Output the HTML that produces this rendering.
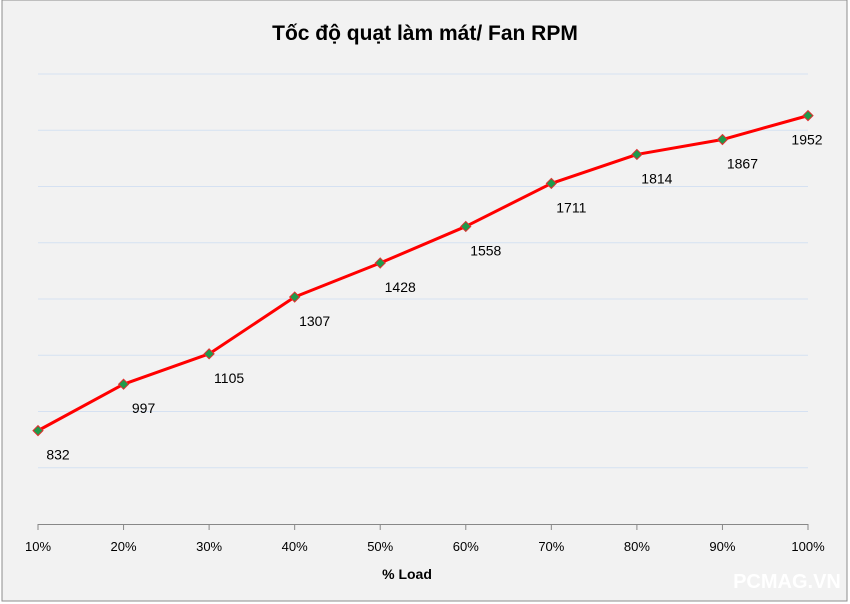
<!DOCTYPE html>
<html><head><meta charset="utf-8"><style>
html,body{margin:0;padding:0;background:#fff;}
svg{display:block;}
</style></head><body>
<svg id="chart" width="850" height="604" xmlns="http://www.w3.org/2000/svg" font-family="'Liberation Sans', 'DejaVu Sans', sans-serif">
<rect x="2" y="0" width="845" height="601" fill="#f2f2f2" stroke="#8c8c8c" stroke-width="1"/>
<text x="425" y="40" text-anchor="middle" font-size="21" font-weight="bold" fill="#000">Tốc độ quạt làm mát/ Fan RPM</text>
<g id="grid"></g>
<g id="axis"></g>
<g id="series"></g>
<text x="407" y="579" text-anchor="middle" font-size="14" font-weight="bold" fill="#000">% Load</text>
<text x="787" y="588" text-anchor="middle" font-size="20" font-weight="bold" fill="#ffffff">PCMAG.VN</text>
</svg>
<script>
const categories = ["10%","20%","30%","40%","50%","60%","70%","80%","90%","100%"];
const rpmValues = [832,997,1105,1307,1428,1558,1711,1814,1867,1952];
const yTicks = [700,900,1100,1300,1500,1700,1900,2100];
const yMin = 500, yMax = 2100;
const NS = "http://www.w3.org/2000/svg";
const x0 = 38, x1 = 808, yTop = 74, yBot = 524;
function xPos(i){ return x0 + i*(x1-x0)/(categories.length-1); }
function yPos(v){ return yBot - (v-yMin)/(yMax-yMin)*(yBot-yTop); }
function mk(tag, attrs, parent){ const e=document.createElementNS(NS,tag); for(const k in attrs) e.setAttribute(k,attrs[k]); parent.appendChild(e); return e; }
const grid=document.getElementById('grid'), axis=document.getElementById('axis'), series=document.getElementById('series');
yTicks.forEach(t=>{
  const l=mk('line',{x1:x0,x2:x1,y1:yPos(t),y2:yPos(t),stroke:'#d5e1f2','stroke-width':1},grid);
  
  
});
const al=mk('line',{x1:x0,x2:x1,y1:yBot+0.5,y2:yBot+0.5,stroke:'#888','stroke-width':1},axis);


categories.forEach((c,i)=>{
  const tk=mk('line',{x1:xPos(i),x2:xPos(i),y1:yBot,y2:yBot+6,stroke:'#888','stroke-width':1},axis);
  
  
  const tl=mk('text',{x:xPos(i),y:551,'text-anchor':'middle','font-size':13,fill:'#000'},axis);
  tl.textContent=c;
  
  
});
const pts=rpmValues.map((v,i)=>xPos(i)+','+yPos(v)).join(' ');
const pl=mk('polyline',{points:pts,fill:'none',stroke:'#ff0000','stroke-width':3,'stroke-linejoin':'round'},series);


rpmValues.forEach((v,i)=>{
  const x=xPos(i), y=yPos(v);
  const m=mk('polygon',{points:`${x},${y-5} ${x+5},${y} ${x},${y+5} ${x-5},${y}`,fill:'#1e9a4a',stroke:'#e03030','stroke-width':1},series);
  
  
  const last = i===rpmValues.length-1;
  const t=mk('text',{x:last?x-1:x+20,y:y+29,'text-anchor':'middle','font-size':14,fill:'#000'},series);
  t.textContent=v;
  
  
});
</script>
</body></html>
